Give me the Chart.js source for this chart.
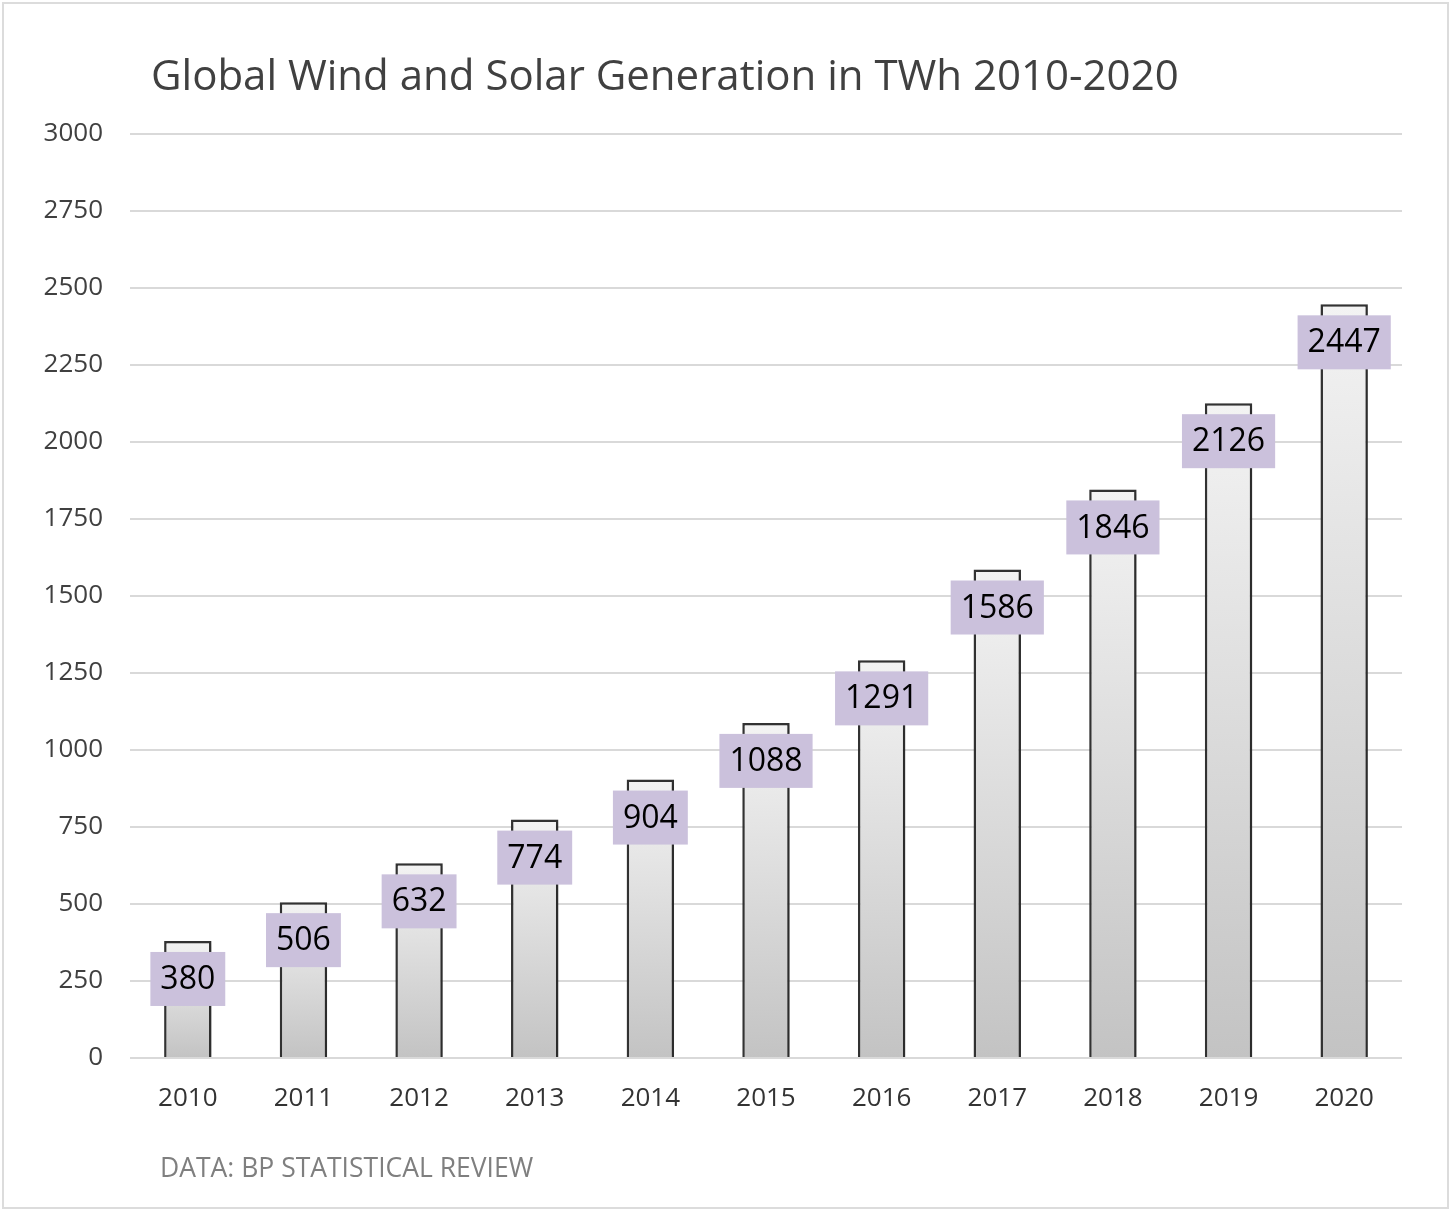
<!DOCTYPE html>
<html>
<head>
<meta charset="utf-8">
<script src="https://cdn.jsdelivr.net/npm/chart.js@4.4.1/dist/chart.umd.min.js"></script>
<style>
body{margin:0;background:#fff;}
#wrap{position:relative;width:1456px;height:1215px;}
#frame{position:absolute;left:2px;top:2px;width:1447px;height:1207px;box-sizing:border-box;border:2px solid #dcdcdc;pointer-events:none;}
</style>
</head>
<body>
<div id="wrap">
<canvas id="windSolar"></canvas>
<div id="frame"></div>
</div>
<script>
// data
const years = ["2010","2011","2012","2013","2014","2015","2016","2017","2018","2019","2020"];
const twh = [380,506,632,774,904,1088,1291,1586,1846,2126,2447];
const yTicks = [0,250,500,750,1000,1250,1500,1750,2000,2250,2500,2750,3000];

const chartTitle = "Global Wind and Solar Generation in TWh 2010-2020";
const sourceNote = "DATA: BP STATISTICAL REVIEW";

// title + footer text
const textPlugin = {
id:"textPlugin",
afterDraw(chart){
const {ctx} = chart;
ctx.save();
ctx.textBaseline = "alphabetic";
ctx.textAlign = "left";
ctx.fillStyle = "#404040";
ctx.font = "42px 'Open Sans'";
ctx.fillText(chartTitle, 151, 90);
ctx.fillStyle = "#7f7f7f";
ctx.font = "26.5px 'Open Sans'";
ctx.fillText(sourceNote, 160, 1177);
ctx.restore();
}
};

// lavender value boxes just inside the top of each bar
const valueBoxPlugin = {
id:"valueBoxPlugin",
afterDatasetsDraw(chart){
const {ctx} = chart;
const meta = chart.getDatasetMeta(0);
ctx.save();
ctx.font = "32px 'Open Sans'";
ctx.textAlign = "center";
ctx.textBaseline = "middle";
meta.data.forEach((bar,i)=>{
const txt = String(twh[i]);
const w = ctx.measureText(txt).width + 20;
const h = 54;
const cy = bar.y + 38;
ctx.fillStyle = "#cbc1dc";
ctx.fillRect(bar.x - w/2, cy - h/2, w, h);
ctx.fillStyle = "#000";
ctx.fillText(txt, bar.x, cy + 1);
});
ctx.restore();
}
};

// soft shadow behind bars
const shadowPlugin = {
id:"shadowPlugin",
beforeDatasetsDraw(chart){
const {ctx} = chart;
ctx.save();
ctx.shadowColor = "rgba(0,0,0,0.22)";
ctx.shadowBlur = 6;
ctx.shadowOffsetX = 2;
ctx.shadowOffsetY = 2;
},
afterDatasetsDraw(chart){
chart.ctx.restore();
}
};

function barGradient(context){
const chart = context.chart;
const y = chart.scales.y;
if(!chart.chartArea || !y) return "#dddddd";
const v = twh[context.dataIndex];
const top = y.getPixelForValue(v);
const bottom = y.getPixelForValue(0);
const g = chart.ctx.createLinearGradient(0, top, 0, bottom);
g.addColorStop(0, "#f3f3f3");
g.addColorStop(1, "#c3c3c3");
return g;
}

new Chart(document.getElementById("windSolar"),{
type:"bar",
data:{
labels:years,
datasets:[{
data:twh,
backgroundColor:barGradient,
borderColor:"#333333",
borderWidth:2.5,
borderSkipped:"bottom",
categoryPercentage:1,
barPercentage:0.41
}]
},
options:{
responsive:true,
maintainAspectRatio:false,
animation:false,
layout:{padding:{left:0,right:54,top:134,bottom:0}},
plugins:{
legend:{display:false},
tooltip:{enabled:false}
},
scales:{
x:{
grid:{display:false},
border:{display:false},
ticks:{color:"#333333",font:{family:"'Open Sans'",size:26},padding:17},
afterFit(scale){scale.height = 157;}
},
y:{
min:0,
max:3000,
afterBuildTicks(scale){scale.ticks = yTicks.map(v=>({value:v}));},
grid:{color:"#d9d9d9",lineWidth:2,drawTicks:false},
border:{display:false},
ticks:{color:"#404040",font:{family:"'Open Sans'",size:26},padding:27,
callback:(v)=>String(v)},
afterFit(scale){scale.width = 130;}
}
}
},
plugins:[shadowPlugin,valueBoxPlugin,textPlugin]
});
</script>
</body>
</html>
